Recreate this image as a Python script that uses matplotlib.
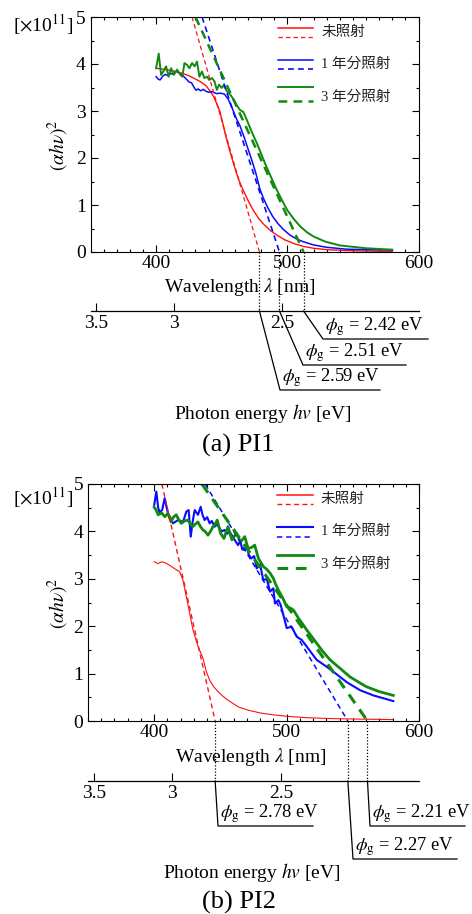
import numpy as np
import matplotlib
matplotlib.use('Agg')
import matplotlib.pyplot as plt
from matplotlib.lines import Line2D
from matplotlib.ticker import MultipleLocator

plt.rcParams['font.family'] = ['Liberation Serif', 'Noto Sans CJK JP']
plt.rcParams['mathtext.fontset'] = 'stix'
plt.rcParams['font.size'] = 14

W, H = 472, 914

# ---- (a) PI1 ----
a_red_nm = [400, 405, 410, 415, 420, 425, 430, 434, 438, 441, 444, 446, 448.5, 451, 453.5, 456,
            458.5, 461, 463.5, 466, 470, 474, 478, 482, 487, 492, 498, 505, 512, 520, 530, 545, 560, 580]
a_red = [3.91, 3.89, 3.87, 3.84, 3.80, 3.75, 3.68, 3.62, 3.54, 3.43, 3.30, 3.17, 3.0, 2.72, 2.42, 2.17,
         1.93, 1.70, 1.50, 1.34, 1.10, 0.89, 0.72, 0.59, 0.46, 0.36, 0.26, 0.18, 0.12, 0.08, 0.05, 0.03, 0.02, 0.01]

a_blue_nm = [400, 401.5, 403, 405, 407, 409, 411, 413, 415.5, 418, 420.5, 423, 425, 427, 429, 430.5,
             432, 434, 436, 438, 440, 443, 446, 449, 452, 455, 458, 461, 464, 467, 470, 473, 476, 479,
             482, 485, 489, 493, 497, 502, 507, 512, 520, 530, 545, 560, 580]
a_blue = [3.73, 3.68, 3.66, 3.74, 3.78, 3.75, 3.80, 3.78, 3.85, 3.80, 3.75, 3.68, 3.62, 3.60, 3.50, 3.44,
          3.47, 3.43, 3.46, 3.42, 3.40, 3.41, 3.37, 3.38, 3.36, 3.25, 3.06, 2.85, 2.68, 2.45, 2.20, 1.95, 1.68, 1.35,
          1.13, 0.95, 0.75, 0.60, 0.48, 0.36, 0.28, 0.22, 0.15, 0.10, 0.06, 0.05, 0.04]

a_green_nm = [400, 402, 403.8, 405.5, 407.6, 409.6, 411.4, 413.5, 416, 418.5, 420, 421.6, 423.6, 425.4,
              427.4, 429.4, 431.2, 433, 435, 436.8, 438.8, 440.5, 442.6, 444.5, 446.3, 448, 450, 451.5,
              454, 456.5, 459, 461.5, 464, 466.5, 469, 473, 477, 480.5, 484, 488, 492, 496, 500, 505,
              510, 515, 520, 529, 540, 560, 580]
a_green = [3.91, 4.22, 3.77, 3.84, 3.95, 3.73, 3.91, 3.77, 3.88, 3.77, 3.73, 4.02, 3.98, 3.91,
           4.02, 3.95, 4.05, 3.73, 3.84, 3.70, 3.73, 3.66, 3.70, 3.63, 3.45, 3.56, 3.49, 3.55,
           3.42, 3.35, 3.25, 3.12, 3.02, 2.98, 2.82, 2.55, 2.30, 2.06, 1.82, 1.57, 1.32, 1.10, 0.89, 0.70,
           0.54, 0.42, 0.33, 0.22, 0.14, 0.08, 0.05]

a_tan_top_nm = [427.4, 435.0, 430.0]   # where each tangent leaves the top of the plot
a_gap_ev = [2.59, 2.51, 2.42]

# ---- (b) PI2 ----
b_red_nm = [400, 403, 405.5, 409, 413, 416.7, 419.2, 421.7, 424.3, 426.8, 429.3, 433.1, 435, 436.9,
            439.4, 441.9, 445, 448.2, 452, 455.7, 463.3, 470.8, 480, 490, 500, 515, 535, 555, 580]
b_red = [3.36, 3.32, 3.36, 3.33, 3.26, 3.19, 3.15, 2.97, 2.62, 2.27, 1.92, 1.57, 1.45, 1.32,
         1.04, 0.86, 0.72, 0.62, 0.52, 0.44, 0.30, 0.23, 0.17, 0.13, 0.10, 0.07, 0.05, 0.04, 0.03]

b_blue_nm = [400, 401.6, 403, 404.1, 406, 407.9, 410.4, 412, 414.2, 418, 421.8, 424.3, 426, 427.6,
             429, 430.6, 433.1, 435.1, 436.5, 438.1, 440, 441.9, 443.5, 445.7, 447.5, 449.5, 451,
             453.2, 455, 457, 459, 460.8, 463.3, 465, 466.5, 468.4, 470, 471.5, 473.4, 475.5, 477.4,
             480, 482.4, 485, 487.5, 490, 491.2, 493.8, 495.5, 497.5, 500.1, 503.8, 507.6, 511.4,
             515.2, 522.7, 530, 535.3, 545.4, 555.5, 565.5, 580.6]
b_blue = [4.56, 4.84, 4.50, 4.40, 4.45, 4.70, 4.38, 4.30, 4.17, 4.24, 4.20, 4.42, 4.45, 3.89,
          4.20, 4.45, 4.35, 4.52, 4.35, 4.24, 4.30, 4.17, 4.22, 4.10, 4.15, 4.06, 4.00,
          4.03, 3.95, 3.99, 3.90, 3.82, 3.71, 3.80, 3.62, 3.61, 3.68, 3.50, 3.43, 3.48, 3.22,
          3.30, 2.97, 3.00, 2.73, 2.80, 2.48, 2.55, 2.45, 2.24, 1.96, 1.99, 1.78, 1.71,
          1.57, 1.29, 1.15, 1.04, 0.82, 0.65, 0.54, 0.42]

b_green_nm = [400, 401.5, 403, 405.6, 408, 410.4, 412.7, 414.5, 416.6, 418.5, 420.4, 423, 425.4,
              427.5, 429.1, 431, 433, 435, 436.8, 438.5, 440.6, 442.5, 444.4, 446, 447.6, 450.1,
              452.7, 455.7, 458.7, 462, 465.3, 468.4, 470.9, 473.5, 475.9, 478.7, 480.5, 482.4, 485,
              487.5, 490, 491.5, 493.8, 497, 500.1, 503, 505.2, 508.9, 512, 515.2, 519, 522.7, 527,
              532.8, 540, 547.9, 555, 560.5, 570, 580.6]
b_green = [4.51, 4.45, 4.35, 4.39, 4.31, 4.38, 4.20, 4.30, 4.35, 4.25, 4.17, 4.22, 4.24,
           4.15, 4.10, 4.15, 4.20, 4.10, 4.03, 4.00, 3.92, 4.00, 4.10, 4.15, 4.24, 3.96,
           3.85, 4.10, 3.82, 3.96, 3.78, 3.89, 3.64, 3.66, 3.71, 3.43, 3.35, 3.26, 3.20,
           3.12, 3.01, 2.90, 2.76, 2.60, 2.41, 2.38, 2.34, 2.17, 2.05, 1.92, 1.78, 1.64, 1.48,
           1.29, 1.12, 0.93, 0.81, 0.72, 0.62, 0.54]

b_tan_top_nm = [405.8, 438.5, 436.0]
b_gap_ev = [2.78, 2.27, 2.21]

legend_labels = ['未照射', '1 年分照射', '3 年分照射']
energy_ticks = [3.5, 3.0, 2.5]
energy_ticklabels = ['3.5', '3', '2.5']

colors = ['#ff1010', '#0a0aff', '#108a10']

fig = plt.figure(figsize=(W / 100, H / 100), dpi=100)


def rect(left, top, right, bottom):
    return [left / W, 1 - bottom / H, (right - left) / W, (bottom - top) / H]


def ftext(x, y, s, **kw):
    kw.setdefault('ha', 'center')
    fig.text(x / W, 1 - y / H, s, va='center', **kw)


def fline(xs, ys, **kw):
    fig.add_artist(Line2D([x / W for x in xs], [1 - y / H for y in ys],
                          transform=fig.transFigure, color='black', **kw))


def panel(box, e_y, curves, tan_top, gaps, lws, tan_lws, notes, lab):
    ax = fig.add_axes(rect(*box))
    for (nm, val), c, lw in zip(curves, colors, lws):
        ax.plot(nm, val, color=c, lw=lw)
    for t, ev, c, lw in zip(tan_top, gaps, colors, tan_lws):
        ax.plot([t, 1240.0 / ev], [5, 0], color=c, lw=lw, ls=(0, (3.5, 2.5)))
    ax.set_xlim(350, 600)
    ax.set_ylim(0, 5)
    ax.set_xticks([400, 500, 600])
    ax.xaxis.set_minor_locator(MultipleLocator(10))
    ax.yaxis.set_major_locator(MultipleLocator(1))
    ax.yaxis.set_minor_locator(MultipleLocator(0.5))
    ax.tick_params(which='both', direction='in', top=True, right=True, width=0.8, labelsize=14)
    ax.tick_params(which='major', length=5)
    ax.tick_params(which='minor', length=2.5)
    ax.tick_params(axis='x', pad=2)
    for s in ax.spines.values():
        s.set_linewidth(0.8)

    # legend drawn by hand
    rows = [(0.952, 0.915, 0.934), (0.818, 0.777, 0.801), (0.701, 0.644, 0.661)]
    for (ys, yd, yt), c, lw, tlw, txt in zip(rows, colors, lws, tan_lws, legend_labels):
        ax.plot([0.572, 0.679], [ys, ys], color=c, lw=max(lw, 1.1), transform=ax.transAxes)
        ax.plot([0.572, 0.679], [yd, yd], color=c, lw=tlw, ls=(0, (3.5, 2.5)), transform=ax.transAxes)
        ax.text(0.703, yt, txt, transform=ax.transAxes, fontsize=10.5, va='center', ha='left',
                color='#222222')

    # photon energy axis
    ex = fig.add_axes(rect(box[0], e_y, box[2], e_y + 0.1))
    ex.set_xlim(350, 600)
    ex.patch.set_visible(False)
    for s in ['left', 'right', 'top']:
        ex.spines[s].set_visible(False)
    ex.spines['bottom'].set_linewidth(0.9)
    ex.set_yticks([])
    ex.set_xticks(1240.0 / np.array(energy_ticks))
    ex.set_xticklabels(energy_ticklabels)
    ex.tick_params(axis='x', direction='in', length=6, width=0.8, pad=3, labelsize=14)

    # band-gap markers
    for ev, (left, uy, right) in zip(gaps, notes):
        xd, yd = ax.transData.transform((1240.0 / ev, 0))
        xg, yb = xd, H - yd
        fline([xg, xg], [yb, e_y], lw=0.9, ls=(0, (1, 1.5)))
        fline([xg, left, right], [e_y, uy, uy], lw=0.9)
        ftext(left + 2, uy - 12, r'$\phi_{\mathrm{g}}$ = %.2f eV' % ev, ha='left', fontsize=13.3)

    ftext(*lab['xlabel'], r'Wavelength $\lambda$ [nm]')
    ftext(*lab['ylabel'], r'$(\alpha h\nu)^2$', rotation=90)
    ftext(*lab['unit'], r'[$\times$10$^{11}$]')
    ftext(*lab['energy'], r'Photon energy $hv$ [eV]')
    ftext(*lab['cap'][:2], lab['cap'][2], fontsize=19)


panel((90.5, 17, 418.5, 252), 311,
      [(a_red_nm, a_red), (a_blue_nm, a_blue), (a_green_nm, a_green)],
      a_tan_top_nm, a_gap_ev, [1.0, 1.1, 1.4], [0.9, 1.2, 1.8],
      [(280, 390, 380), (303, 365, 406), (323, 339, 428)],
      dict(xlabel=(240, 287), ylabel=(58, 145), unit=(43, 25), energy=(263, 413),
           cap=(238, 445, '(a) PI1')))

panel((88, 484, 419, 721), 781,
      [(b_red_nm, b_red), (b_blue_nm, b_blue), (b_green_nm, b_green)],
      b_tan_top_nm, b_gap_ev, [0.8, 1.5, 2.0], [1.0, 1.1, 2.2],
      [(218, 826, 313), (353, 859, 457), (370, 826, 465)],
      dict(xlabel=(251, 757), ylabel=(58, 603), unit=(43, 498), energy=(252, 872),
           cap=(239, 902, '(b) PI2')))

fig.savefig('out.png', dpi=100)
